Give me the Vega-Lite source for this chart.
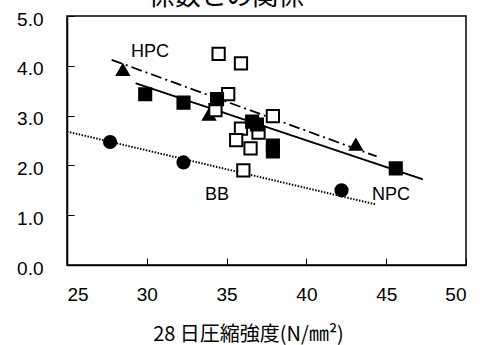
{
  "$schema": "https://vega.github.io/schema/vega-lite/v6.json",
  "autosize": {"type": "none"},
  "width": 399,
  "height": 249,
  "padding": {"left": 67, "top": 16, "right": 18, "bottom": 80},
  "background": "white",
  "title": {
    "text": "係数との関係",
    "fontSize": 26,
    "font": "Noto Sans CJK JP",
    "fontWeight": "normal",
    "color": "#000",
    "anchor": "middle",
    "frame": "group",
    "baseline": "alphabetic",
    "offset": 0,
    "dy": 21,
    "dx": -40
  },
  "config": {
    "view": {"stroke": "#000", "strokeWidth": 1.5},
    "font": "Liberation Sans",
    "axis": {
      "grid": false,
      "domainColor": "#000",
      "domainWidth": 1.5,
      "tickColor": "#000",
      "tickWidth": 1,
      "labelColor": "#000",
      "labelFontSize": 19,
      "labelFont": "Liberation Sans",
      "titleColor": "#000"
    }
  },
  "datasets": {
    "pts": [
      {"g": "HPC", "x": 28.5, "y": 3.92},
      {"g": "HPC", "x": 33.9, "y": 3.02},
      {"g": "HPC", "x": 43.1, "y": 2.42},
      {"g": "Open", "x": 34.5, "y": 4.24},
      {"g": "Open", "x": 35.9, "y": 4.05},
      {"g": "Open", "x": 35.1, "y": 3.43},
      {"g": "Open", "x": 34.3, "y": 3.11},
      {"g": "Open", "x": 37.9, "y": 2.99},
      {"g": "Open", "x": 35.9, "y": 2.74},
      {"g": "Open", "x": 37.0, "y": 2.66},
      {"g": "Open", "x": 35.6, "y": 2.51},
      {"g": "Open", "x": 36.5, "y": 2.34},
      {"g": "Open", "x": 36.05, "y": 1.9},
      {"g": "NPC", "x": 29.9, "y": 3.43},
      {"g": "NPC", "x": 32.3, "y": 3.26},
      {"g": "NPC", "x": 34.4, "y": 3.33},
      {"g": "NPC", "x": 36.6, "y": 2.88},
      {"g": "NPC", "x": 36.9, "y": 2.82},
      {"g": "NPC", "x": 37.9, "y": 2.4},
      {"g": "NPC", "x": 37.9, "y": 2.28},
      {"g": "NPC", "x": 45.6, "y": 1.94},
      {"g": "BB", "x": 27.7, "y": 2.47},
      {"g": "BB", "x": 32.3, "y": 2.06},
      {"g": "BB", "x": 42.2, "y": 1.5}
    ],
    "lines": [
      {"s": "HPC", "x": 27.8, "y": 4.12},
      {"s": "HPC", "x": 44.4, "y": 2.18},
      {"s": "NPC", "x": 29.3, "y": 3.65},
      {"s": "NPC", "x": 47.3, "y": 1.72},
      {"s": "BB", "x": 25.0, "y": 2.68},
      {"s": "BB", "x": 44.3, "y": 1.22}
    ],
    "labels": [
      {"t": "HPC", "x": 30.2, "y": 4.28},
      {"t": "BB", "x": 34.4, "y": 1.41},
      {"t": "NPC", "x": 45.3, "y": 1.41}
    ]
  },
  "encoding": {
    "x": {
      "field": "x", "type": "quantitative",
      "scale": {"domain": [25, 50], "nice": false, "zero": false},
      "axis": {
        "values": [25, 30, 35, 40, 45, 50],
        "tickSize": -7,
        "labelPadding": 27,
        "labelBaseline": "top",
        "title": "28 日圧縮強度(N/㎜²)",
        "titleFont": "Noto Sans CJK JP",
        "titleFontSize": 20,
        "titleFontWeight": "normal",
        "titleX": 181,
        "titleY": 75,
        "titleBaseline": "alphabetic"
      }
    },
    "y": {
      "field": "y", "type": "quantitative",
      "scale": {"domain": [0, 5], "nice": false},
      "axis": {
        "values": [0, 1, 2, 3, 4, 5],
        "format": ".1f",
        "tickSize": -7,
        "labelPadding": 31,
        "labelOffset": 3,
        "title": null
      }
    }
  },
  "layer": [
    {
      "data": {"name": "lines"},
      "mark": {"type": "line", "color": "#000"},
      "encoding": {
        "detail": {"field": "s"},
        "strokeDash": {
          "field": "s", "type": "nominal",
          "scale": {"domain": ["HPC", "NPC", "BB"], "range": [[11, 4, 2, 4], [1, 0], [1.5, 1.5]]},
          "legend": null
        },
        "strokeWidth": {
          "field": "s", "type": "nominal",
          "scale": {"domain": ["HPC", "NPC", "BB"], "range": [1.8, 2, 1.6]},
          "legend": null
        }
      }
    },
    {
      "data": {"name": "pts"},
      "mark": {"type": "point", "filled": true, "opacity": 1, "stroke": "#000"},
      "encoding": {
        "shape": {
          "field": "g", "type": "nominal",
          "scale": {"domain": ["HPC", "NPC", "BB", "Open"], "range": ["triangle-up", "square", "circle", "square"]},
          "legend": null
        },
        "fill": {
          "field": "g", "type": "nominal",
          "scale": {"domain": ["HPC", "NPC", "BB", "Open"], "range": ["#000", "#000", "#000", "#fff"]},
          "legend": null
        },
        "size": {
          "field": "g", "type": "nominal",
          "scale": {"domain": ["HPC", "NPC", "BB", "Open"], "range": [150, 150, 120, 130]},
          "legend": null
        },
        "strokeWidth": {
          "field": "g", "type": "nominal",
          "scale": {"domain": ["HPC", "NPC", "BB", "Open"], "range": [0.5, 0.5, 0.5, 2]},
          "legend": null
        }
      }
    },
    {
      "data": {"name": "labels"},
      "mark": {"type": "text", "font": "Liberation Sans", "fontSize": 18, "color": "#000", "baseline": "middle", "align": "center"},
      "encoding": {"text": {"field": "t"}}
    }
  ]
}
